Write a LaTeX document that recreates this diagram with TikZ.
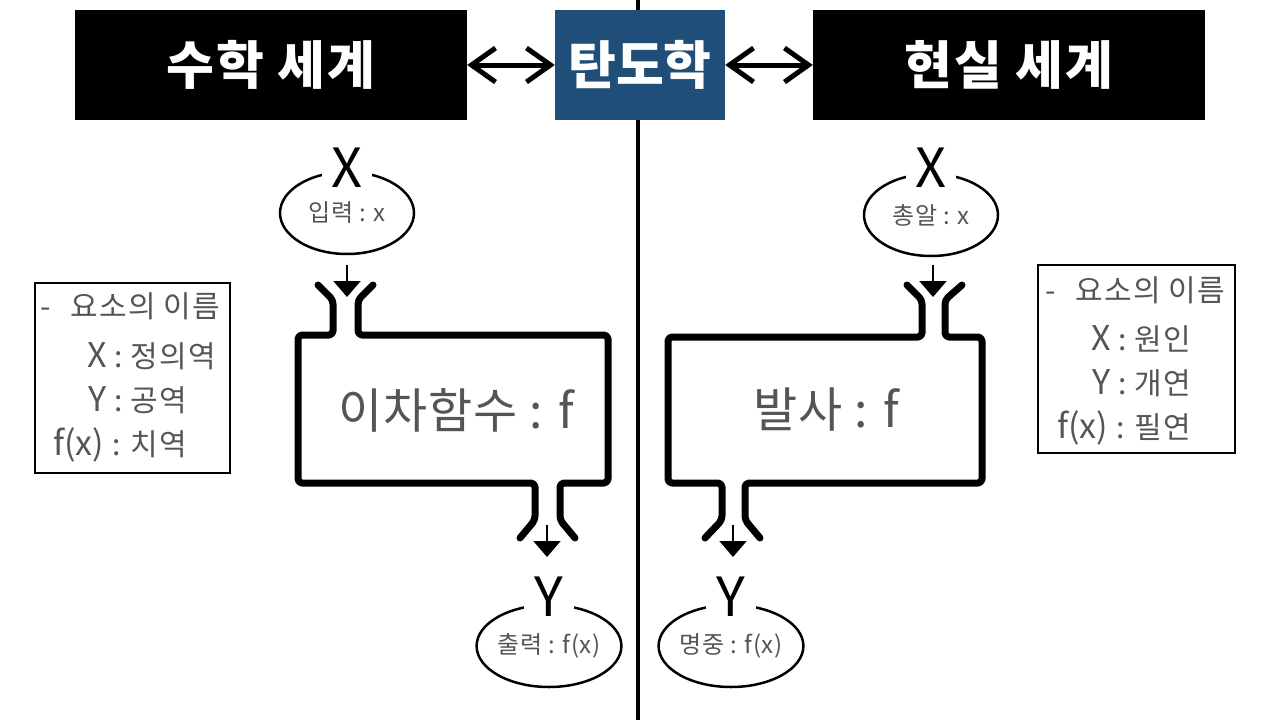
\documentclass[tikz,border=0pt]{standalone}
\usepackage{fontspec}
\setmainfont{Noto Sans CJK KR}
\usetikzlibrary{arrows.meta,shapes.geometric}
\definecolor{bluebox}{HTML}{1F4E79}
\definecolor{txtgray}{HTML}{555555}
\newcommand{\lkey}[1]{{\fontsize{34}{44}\selectfont\addfontfeature{LetterSpace=0}#1}}
\begin{document}
\begin{tikzpicture}[x=1pt,y=-1pt,
  hdr/.style={fill=black,text=white,minimum width=392pt,minimum height=110pt,inner sep=0pt,font=\fontsize{52}{58}\selectfont\bfseries\addfontfeature{LetterSpace=4}},
  ctr/.style={fill=bluebox,text=white,minimum width=170pt,minimum height=110pt,inner sep=0pt,font=\fontsize{52}{58}\selectfont\bfseries},
  dbl/.style={line width=5pt,{Straight Barb[length=24pt,width=34pt]}-{Straight Barb[length=24pt,width=34pt]}},
  bigvar/.style={fill=white,inner sep=2pt,minimum width=50pt,font=\fontsize{54}{60}\selectfont},
  ell/.style={draw,ellipse,line width=2.5pt,minimum width=134pt,minimum height=82pt,inner sep=0pt,text=txtgray,font=\fontsize{24}{28}\selectfont\addfontfeature{LetterSpace=2}},
  funnel/.style={line width=7pt,rounded corners=4pt,line cap=round,line join=round},
  smallarr/.style={line width=2pt,-{Triangle[length=16pt,width=27pt]}},
  fname/.style={text=txtgray,font=\fontsize{48}{52}\selectfont\addfontfeature{LetterSpace=2}},
  legbox/.style={draw,line width=2.5pt,inner sep=0pt},
  legtxt/.style={text=txtgray,inner sep=0pt,font=\fontsize{30}{44}\selectfont\addfontfeature{LetterSpace=4}},
]
\useasboundingbox (0,0) rectangle (1280,720);
\fill[white] (0,0) rectangle (1280,720);
% divider
\draw[line width=4pt] (638,0) -- (638,720);

% headers
\node[hdr] (math) at (271,65) {수학 세계};
\node[ctr] (ball) at (640,65) {탄도학};
\node[hdr] (real) at (1009,65) {현실 세계};
\draw[dbl] (math.east) -- (ball.west);
\draw[dbl] (ball.east) -- (real.west);

% ---------- left diagram ----------
\node[ell] (inL) at (347,213) {입력 : x};
\node[bigvar] (xL) at (347,168) {X};
\coordinate (inLs) at (347,265);
\coordinate (inLe) at (347,297);
\draw[smallarr] (inLs) -- (inLe);
\draw[funnel] (318,285) -- (333,300) -- (333,335) -- (298,335) -- (298,483) -- (535,483) -- (535,520) -- (520,538);
\draw[funnel] (575,538) -- (560,520) -- (560,483) -- (608,483) -- (608,335) -- (358,335) -- (358,300) -- (373,285);
\node[fname] (fL) at (456,410) {이차함수 : f};
\coordinate (outLs) at (547,525);
\coordinate (outLe) at (547,557);
\draw[smallarr] (outLs) -- (outLe);
\node[ell] (outL) at (549,646) {출력 : f(x)};
\node[bigvar] (yL) at (549,597) {Y};

% ---------- right diagram ----------
\node[ell] (inR) at (931,215) {총알 : x};
\node[bigvar] (xR) at (931,168) {X};
\coordinate (inRs) at (933,265);
\coordinate (inRe) at (933,297);
\draw[smallarr] (inRs) -- (inRe);
\draw[funnel] (907,285) -- (922,300) -- (922,337) -- (668,337) -- (668,483) -- (722,483) -- (722,520) -- (705,538);
\draw[funnel] (760,538) -- (745,520) -- (745,483) -- (982,483) -- (982,337) -- (945,337) -- (945,300) -- (962,285);
\node[fname] (fR) at (826,410) {발사 : f};
\coordinate (outRs) at (733,525);
\coordinate (outRe) at (733,557);
\draw[smallarr] (outRs) -- (outRe);
\node[ell] (outR) at (731,646) {명중 : f(x)};
\node[bigvar] (yR) at (731,597) {Y};

% ---------- legends ----------
\node[legbox,minimum width=195pt,minimum height=190pt] (legL) at (132.5,378) {};
\node[legtxt,anchor=west] (legLt) at (40,306) {-\hspace{20pt}요소의 이름};
\node[legtxt,anchor=west] (legLb) at (53,403) {\begin{tabular}{@{}r@{ : }l@{}}\lkey{X} & 정의역\\ \lkey{Y} & 공역\\ \lkey{f(x)} & 치역\end{tabular}};

\node[legbox,minimum width=197pt,minimum height=188pt] (legR) at (1136.5,359) {};
\node[legtxt,anchor=west] (legRt) at (1045,290) {-\hspace{20pt}요소의 이름};
\node[legtxt,anchor=west] (legRb) at (1057,386) {\begin{tabular}{@{}r@{ : }l@{}}\lkey{X} & 원인\\ \lkey{Y} & 개연\\ \lkey{f(x)} & 필연\end{tabular}};
\end{tikzpicture}
\end{document}
